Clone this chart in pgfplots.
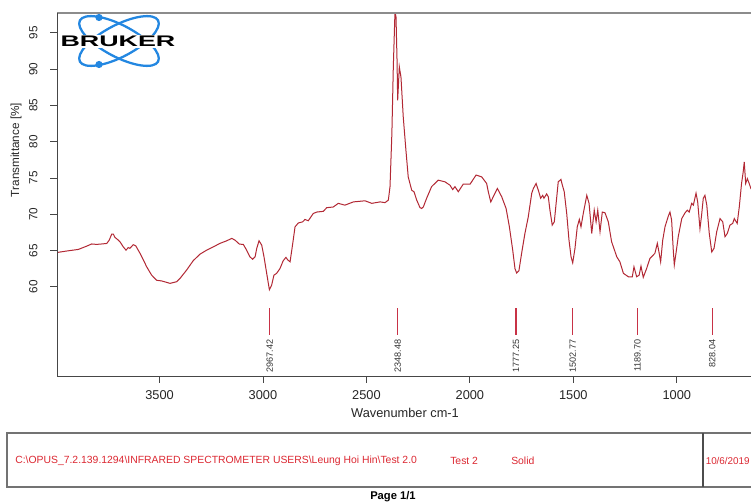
\documentclass[border=0pt]{standalone}
\usepackage{pgfplots}
\pgfplotsset{compat=1.18}
\usepackage{pgfplotstable}
\usepackage{fontspec}
\setmainfont{Liberation Sans}
\definecolor{spec}{RGB}{178,40,52}
\definecolor{peakc}{RGB}{200,50,70}
\definecolor{boxred}{RGB}{220,40,50}
\definecolor{bruk}{RGB}{35,135,225}
\definecolor{axc}{RGB}{70,70,70}

\pgfplotstableread{
w T
3994 64.70
3992 64.74
3941 64.96
3892 65.15
3852 65.60
3828 65.90
3804 65.84
3779 65.90
3755 65.97
3743 66.43
3731 67.26
3723 67.26
3715 66.80
3702 66.50
3691 66.20
3675 65.50
3662 65.05
3651 65.40
3643 65.30
3627 65.80
3615 65.65
3594 64.60
3578 63.70
3562 62.75
3538 61.60
3514 60.90
3489 60.80
3449 60.47
3417 60.70
3401 61.15
3369 62.30
3337 63.60
3304 64.50
3272 65.05
3240 65.50
3208 65.98
3175 66.34
3151 66.67
3135 66.43
3114 65.88
3095 65.84
3079 65.05
3063 64.13
3050 63.80
3038 64.13
3030 65.30
3019 66.34
3006 65.74
2995 64.13
2982 61.85
2969 59.60
2958 60.23
2947 61.60
2934 61.85
2918 62.50
2902 63.60
2889 64.05
2880 63.70
2869 63.44
2856 65.98
2845 68.26
2829 68.80
2808 68.95
2797 69.28
2781 69.10
2757 70.10
2740 70.30
2708 70.40
2692 70.90
2660 71.00
2636 71.50
2604 71.25
2563 71.70
2507 71.85
2474 71.50
2434 71.70
2410 71.60
2394 71.95
2386 73.80
2377 81.10
2370 90.30
2362 97.90
2357 97.20
2352 91.20
2349 85.70
2341 90.30
2333 88.90
2322 83.40
2309 78.80
2298 75.15
2281 73.30
2270 73.10
2257 71.95
2241 70.90
2233 70.80
2225 71.00
2209 72.20
2185 73.80
2153 74.70
2120 74.46
2096 74.00
2083 73.40
2072 73.80
2056 73.10
2032 74.15
1999 74.15
1970 75.40
1943 75.15
1919 74.24
1911 73.10
1899 71.70
1887 72.40
1867 73.55
1846 72.40
1825 70.80
1809 68.26
1793 65.05
1782 62.50
1774 61.90
1763 62.20
1750 64.60
1734 67.35
1718 69.60
1701 72.90
1693 73.55
1680 74.24
1669 73.30
1658 72.20
1648 72.60
1642 72.20
1629 72.80
1621 72.40
1613 70.56
1602 68.50
1592 68.95
1580 72.40
1573 74.46
1560 74.80
1553 74.00
1544 73.10
1532 70.10
1521 66.43
1511 64.13
1503 63.30
1492 65.30
1481 68.26
1471 69.28
1463 68.26
1452 70.10
1435 72.60
1424 71.50
1411 67.35
1399 70.56
1390 68.95
1382 70.56
1371 67.60
1360 70.30
1347 70.20
1331 68.95
1315 66.20
1290 64.13
1275 63.44
1258 61.85
1234 61.38
1215 61.38
1207 62.75
1194 61.38
1182 61.60
1173 62.85
1162 61.30
1146 62.50
1130 63.90
1106 64.60
1094 65.98
1085 64.60
1078 63.44
1068 66.43
1057 68.26
1041 69.74
1033 70.30
1025 69.20
1017 65.05
1012 63.00
1004 64.60
993 66.90
976 69.40
960 70.20
949 70.56
940 70.30
928 71.50
920 71.25
907 72.90
899 71.70
888 68.00
880 69.90
872 72.20
864 72.60
855 71.25
843 67.35
831 64.80
820 65.30
807 67.60
791 69.40
778 68.95
767 66.90
756 67.35
743 68.50
730 68.73
722 69.40
708 68.73
698 71.00
687 74.24
679 75.85
674 77.20
667 74.24
659 74.90
650 74.24
642 73.55
635 73.30
}\spectrum

\begin{document}
\begin{tikzpicture}
\useasboundingbox (0pt,0pt) rectangle (563.25pt,-376.5pt);
\fill[white] (0pt,0pt) rectangle (563.25pt,-376.5pt);
\clip (0pt,0pt) rectangle (563.25pt,-376.5pt);
\begin{axis}[
  at={(42.975pt,-282pt)}, anchor=south west,
  scale only axis, width=520.275pt, height=272.25pt,
  x dir=reverse, xmin=641.4, xmax=3994,
  ymin=47.7, ymax=97.74,
  axis line style={draw=none},
  xtick={1000,1500,2000,2500,3000,3500},
  ytick={60,65,70,75,80,85,90,95},
  xtick pos=bottom, ytick pos=left,
  tick align=outside, major tick length=5.25pt,
  every tick/.style={axc, line width=0.6pt},
  xticklabel style={font=\fontsize{9.6}{11}\selectfont, text=black!85},
  yticklabel style={font=\fontsize{8.8}{10}\selectfont, text=black!85, rotate=90, anchor=south},
  xticklabel shift=2.5pt,
  yticklabel shift=6pt,
  /pgf/number format/assume math mode=true,
  /pgf/number format/1000 sep={},
  clip=true,
]
\addplot[spec, line width=0.75pt] table[x=w, y=T] {\spectrum};
\addplot[peakc, line width=0.8pt] coordinates {(2967.42,57.03) (2967.42,53.35)} node[pos=1, rotate=90, anchor=east, inner sep=3pt, font=\fontsize{6.8}{8}\selectfont, text=black!80] {2967.42};
\addplot[peakc, line width=0.8pt] coordinates {(2348.48,57.03) (2348.48,53.35)} node[pos=1, rotate=90, anchor=east, inner sep=3pt, font=\fontsize{6.8}{8}\selectfont, text=black!80] {2348.48};
\addplot[peakc, line width=0.8pt] coordinates {(1777.25,57.03) (1777.25,53.35)} node[pos=1, rotate=90, anchor=east, inner sep=3pt, font=\fontsize{6.8}{8}\selectfont, text=black!80] {1777.25};
\addplot[peakc, line width=0.8pt] coordinates {(1502.77,57.03) (1502.77,53.35)} node[pos=1, rotate=90, anchor=east, inner sep=3pt, font=\fontsize{6.8}{8}\selectfont, text=black!80] {1502.77};
\addplot[peakc, line width=0.8pt] coordinates {(1189.70,57.03) (1189.70,53.35)} node[pos=1, rotate=90, anchor=east, inner sep=3pt, font=\fontsize{6.8}{8}\selectfont, text=black!80] {1189.70};
\addplot[peakc, line width=0.8pt] coordinates {(828.04,57.03) (828.04,53.35)} node[pos=1, rotate=90, anchor=east, inner sep=3pt, font=\fontsize{6.8}{8}\selectfont, text=black!80] {828.04};
\end{axis}
\begin{scope}[x=0.75pt,y=-0.75pt]
  \draw[black!45, line width=1.3pt] (57.3,13) -- (760,13);
  \draw[axc, line width=0.7pt] (57.3,13) -- (57.3,376) -- (760,376);
  \node[font=\fontsize{9.6}{11}\selectfont, text=black!85] at (405,412.5) {Wavenumber cm-1};
  \node[font=\fontsize{8.8}{10}\selectfont, text=black!85, rotate=90] at (16,150) {Transmittance [\%]};
  \begin{scope}[shift={(119,41)}, xscale=1.6]
    \draw[bruk, line width=1.7pt] (0,0) ellipse [x radius=32.5, y radius=13.5, rotate=45];
    \draw[bruk, line width=1.7pt] (0,0) ellipse [x radius=32.5, y radius=13.5, rotate=-45];
  \end{scope}
  \fill[bruk] (99,17.5) circle (3.6);
  \fill[bruk] (99,64.5) circle (3.6);
  \node[fill=white, inner sep=0.6pt, font=\bfseries\fontsize{11.5}{12}\selectfont, xscale=1.75] at (118,41.5) {BRUKER};
  \draw[black!55, line width=0.8pt] (7,433) rectangle (780,487);
  \draw[black!70, line width=0.8pt] (703,433) -- (703,487);
  \node[anchor=west, text=boxred, font=\fontsize{7.8}{9}\selectfont, inner sep=0] at (15,461) {C:\textbackslash OPUS\_7.2.139.1294\textbackslash INFRARED SPECTROMETER USERS\textbackslash Leung Hoi Hin\textbackslash Test 2.0};
  \node[anchor=west, text=boxred, font=\fontsize{7.8}{9}\selectfont, inner sep=0] at (450,461) {Test 2};
  \node[anchor=west, text=boxred, font=\fontsize{7.8}{9}\selectfont, inner sep=0] at (511,461) {Solid};
  \node[anchor=west, text=boxred, font=\fontsize{7.4}{9}\selectfont, inner sep=0] at (705.5,461) {10/6/2019};
  \node[font=\bfseries\fontsize{8.4}{10}\selectfont] at (393,497) {Page 1/1};
\end{scope}
\end{tikzpicture}
\end{document}
